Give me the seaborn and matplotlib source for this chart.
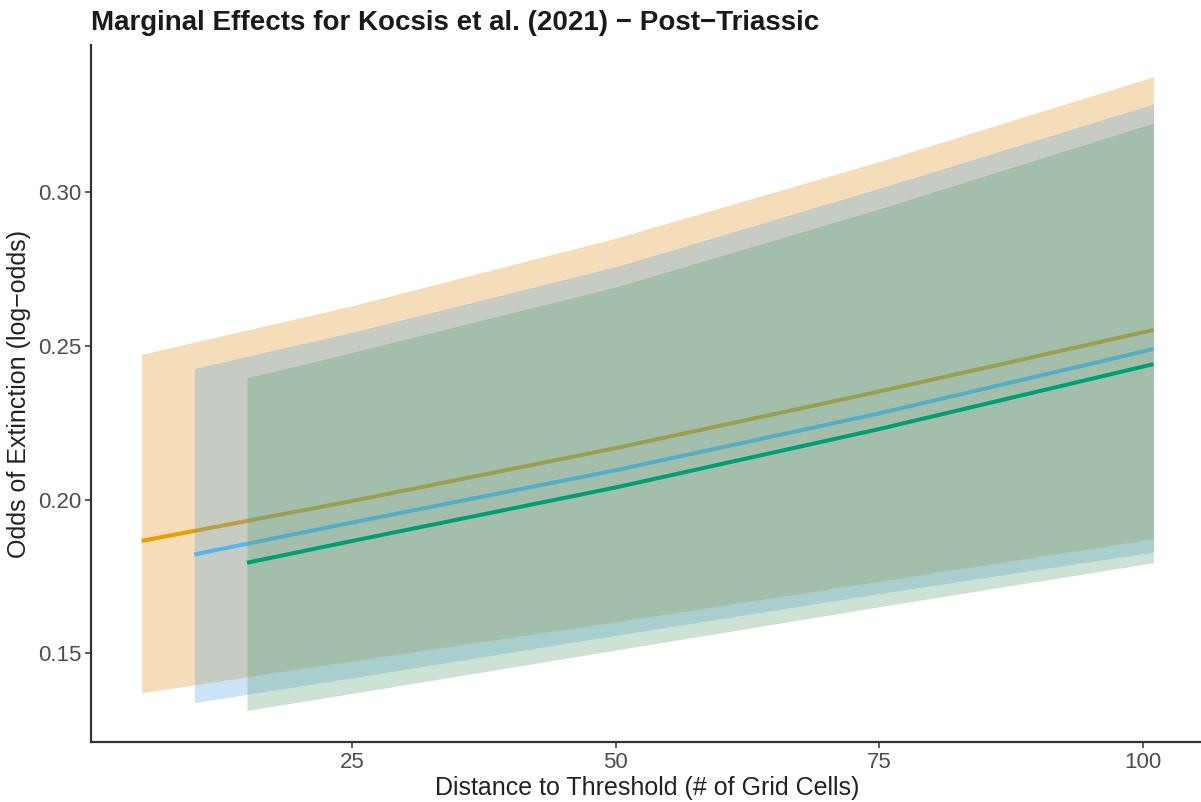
import numpy as np
import pandas as pd
import matplotlib
matplotlib.use("Agg")
import matplotlib.pyplot as plt
import seaborn as sns

# Marginal-effect estimates (log-odds) with 95% bands, one curve per model
groups = ["A", "B", "C"]
line_colors = ["#E69F00", "#56B4E9", "#009E73"]
band_colors = ["#E49119", "#58A2DE", "#56A175"]

x_a = [5, 25, 50, 75, 101]
fit_a = [0.1866, 0.1996, 0.2168, 0.2352, 0.2552]
upper_a = [0.2473, 0.2631, 0.2851, 0.3100, 0.3376]
lower_a = [0.1372, 0.1476, 0.1603, 0.1735, 0.1873]

x_b = [10, 25, 50, 75, 101]
fit_b = [0.1822, 0.1926, 0.2096, 0.2281, 0.2490]
upper_b = [0.2427, 0.2545, 0.2758, 0.3013, 0.3287]
lower_b = [0.1340, 0.1421, 0.1559, 0.1695, 0.1830]

x_c = [15, 25, 50, 75, 101]
fit_c = [0.1795, 0.1866, 0.2040, 0.2230, 0.2441]
upper_c = [0.2397, 0.2479, 0.2692, 0.2946, 0.3225]
lower_c = [0.1315, 0.1370, 0.1511, 0.1652, 0.1795]

x_ticks = [25, 50, 75, 100]
y_ticks = [0.15, 0.20, 0.25, 0.30]
y_tick_labels = ["0.15", "0.20", "0.25", "0.30"]

title = "Marginal Effects for Kocsis et al. (2021) \u2212 Post\u2212Triassic"
x_label = "Distance to Threshold (# of Grid Cells)"
y_label = "Odds of Extinction (log\u2212odds)"

frames = []
for g, xs, f, lo, hi in [("A", x_a, fit_a, lower_a, upper_a),
                         ("B", x_b, fit_b, lower_b, upper_b),
                         ("C", x_c, fit_c, lower_c, upper_c)]:
    frames.append(pd.DataFrame({"group": g, "x": xs, "fit": f,
                                "lower": lo, "upper": hi}))
df = pd.concat(frames, ignore_index=True)

sns.set_theme(style="white")
plt.rcParams["font.family"] = ["Liberation Sans", "DejaVu Sans"]

W, H = 1201, 802
fig = plt.figure(figsize=(W / 100, H / 100), dpi=100)

# axis limits with 5% padding around the data
xmin, xmax = df["x"].min(), df["x"].max()
ymin, ymax = df["lower"].min(), df["upper"].max()
xpad = 0.05 * (xmax - xmin)
ypad = 0.05 * (ymax - ymin)
xlim = (xmin - xpad, xmax + xpad)
ylim = (ymin - ypad, ymax + ypad)

left_px, top_px, bottom_px = 91, 45, 742
px_per_x = 10.54
ax_w = (xlim[1] - xlim[0]) * px_per_x
ax = fig.add_axes([left_px / W, (H - bottom_px) / H, ax_w / W,
                   (bottom_px - top_px) / H])

z = 1
for g, lc, bc in zip(groups, line_colors, band_colors):
    d = df[df["group"] == g]
    ax.fill_between(d["x"], d["lower"], d["upper"], color=bc, alpha=0.3,
                    linewidth=0, zorder=z)
    sns.lineplot(data=d, x="x", y="fit", color=lc, linewidth=2.9, ax=ax,
                 zorder=z + 1, solid_capstyle="butt")
    z += 2

ax.set_xlim(*xlim)
ax.set_ylim(*ylim)
ax.set_xticks(x_ticks)
ax.set_yticks(y_ticks)
ax.set_yticklabels(y_tick_labels)

for s in ["top", "right"]:
    ax.spines[s].set_visible(False)
for s in ["left", "bottom"]:
    ax.spines[s].set_color("#333333")
    ax.spines[s].set_linewidth(1.6)

ax.tick_params(axis="both", which="major", direction="out", length=4,
               width=1.1, color="#333333", labelsize=16,
               labelcolor="#4D4D4D", pad=3, bottom=True, left=True)

ax.set_xlabel(x_label, fontsize=18, color="#222222", labelpad=2)
ax.set_ylabel(y_label, fontsize=18, color="#222222", labelpad=5)

fig.text(left_px / W, 1 - 23 / H, title, fontsize=20, fontweight="bold",
         color="#1a1a1a", ha="left", va="center")

fig.savefig("out.png", dpi=100)
